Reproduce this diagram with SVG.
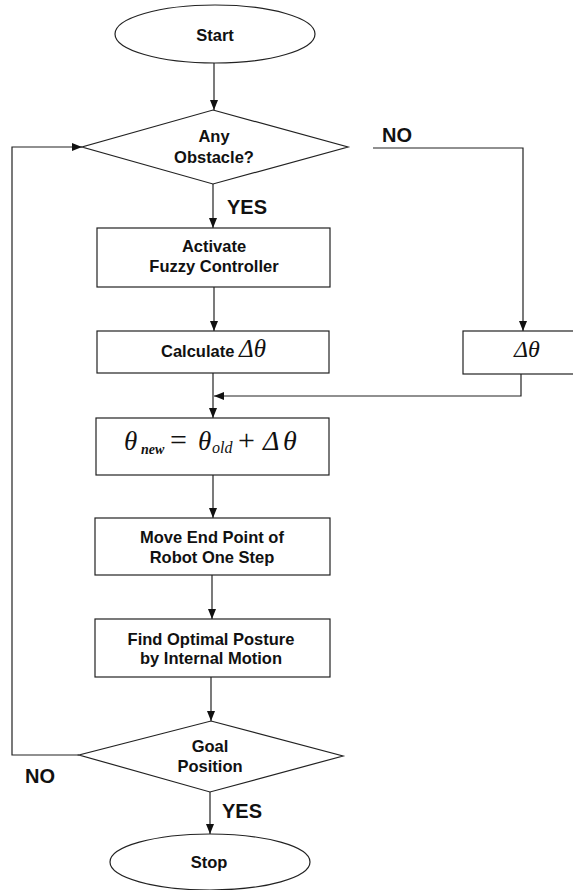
<svg xmlns="http://www.w3.org/2000/svg" width="573" height="890" viewBox="0 0 573 890">
<style>
.shape{fill:#fff;stroke:#222;stroke-width:1.2}
.line{fill:none;stroke:#222;stroke-width:1.2}
.t{font-family:"Liberation Sans",Arial,sans-serif;font-size:16.5px;font-weight:bold;fill:#111;text-anchor:middle}
.ts{font-family:"Liberation Sans",Arial,sans-serif;font-size:16.5px;font-weight:bold;fill:#111;text-anchor:start}
.lbl{font-family:"Liberation Sans",Arial,sans-serif;font-size:20px;font-weight:bold;fill:#111}
.m{font-family:"Liberation Serif","Times New Roman",serif;font-style:italic;font-weight:normal;fill:#111}
.up{font-family:"Liberation Serif","Times New Roman",serif;font-style:normal;font-weight:normal;fill:#111}
</style>
<defs>
<marker id="ah" markerWidth="10" markerHeight="8" refX="10" refY="4" orient="auto" markerUnits="userSpaceOnUse">
<path d="M0,0 L10,4 L0,8 Z" fill="#111"/>
</marker>
</defs>
<rect width="573" height="890" fill="#fff"/>
<g id="connectors">
<line class="line" x1="214" y1="63" x2="214" y2="110" marker-end="url(#ah)"/>
<line class="line" x1="213" y1="184" x2="213" y2="228" marker-end="url(#ah)"/>
<line class="line" x1="214" y1="287" x2="214" y2="331" marker-end="url(#ah)"/>
<line class="line" x1="213" y1="373" x2="213" y2="418" marker-end="url(#ah)"/>
<polyline class="line" points="521,374 521,396 214,396" marker-end="url(#ah)"/>
<polyline class="line" points="373,148 523,148 523,331" marker-end="url(#ah)"/>
<line class="line" x1="213" y1="475" x2="213" y2="518" marker-end="url(#ah)"/>
<line class="line" x1="212" y1="575" x2="212" y2="619" marker-end="url(#ah)"/>
<line class="line" x1="211" y1="677" x2="211" y2="721" marker-end="url(#ah)"/>
<line class="line" x1="210" y1="792" x2="210" y2="834" marker-end="url(#ah)"/>
<polyline class="line" points="79,755 12,755 12,147 82,147" marker-end="url(#ah)"/>
<text class="lbl" x="382" y="142">NO</text>
<text class="lbl" x="227" y="214">YES</text>
<text class="lbl" x="25" y="783">NO</text>
<text class="lbl" x="222" y="818">YES</text>
</g>
<g id="start">
<ellipse class="shape" cx="215" cy="34" rx="100" ry="29"/>
<text class="t" x="215" y="41">Start</text>
</g>
<g id="obstacle">
<polygon class="shape" points="213,110 348,147 213,184 82,147"/>
<text class="t" x="214" y="142">Any</text>
<text class="t" x="214" y="163">Obstacle?</text>
</g>
<g id="activate">
<rect class="shape" x="97" y="228" width="233" height="59"/>
<text class="t" x="214" y="252">Activate</text>
<text class="t" x="214" y="272">Fuzzy Controller</text>
</g>
<g id="calculate">
<rect class="shape" x="97" y="331" width="232" height="42"/>
<text class="ts" x="161" y="357">Calculate</text>
<text class="m" x="239" y="357" font-size="25">Δθ</text>
</g>
<g id="delta">
<rect class="shape" x="463" y="331" width="112" height="43"/>
<text class="m" x="514" y="357" font-size="24">Δθ</text>
</g>
<g id="update">
<rect class="shape" x="96" y="418" width="233" height="57"/>
<text class="m" x="124" y="450" font-size="27">θ</text>
<text class="m" x="141" y="454" font-size="14" style="font-weight:bold">new</text>
<text class="up" x="170" y="450" font-size="30">=</text>
<text class="m" x="198" y="450" font-size="27">θ</text>
<text class="m" x="212" y="453" font-size="16">old</text>
<text class="up" x="238" y="450" font-size="30">+</text>
<text class="m" x="263" y="450" font-size="28">Δ</text>
<text class="m" x="283" y="450" font-size="28">θ</text>
</g>
<g id="move">
<rect class="shape" x="95" y="518" width="235" height="57"/>
<text class="t" x="212" y="543">Move End Point of</text>
<text class="t" x="212" y="563">Robot One Step</text>
</g>
<g id="find">
<rect class="shape" x="95" y="619" width="235" height="58"/>
<text class="t" x="211" y="645">Find Optimal Posture</text>
<text class="t" x="211" y="664">by Internal Motion</text>
</g>
<g id="goal">
<polygon class="shape" points="211,721 343,756 210,792 79,755"/>
<text class="t" x="210" y="752">Goal</text>
<text class="t" x="210" y="772">Position</text>
</g>
<g id="stop">
<ellipse class="shape" cx="210" cy="862" rx="100" ry="28"/>
<text class="t" x="209" y="868">Stop</text>
</g>
</svg>
